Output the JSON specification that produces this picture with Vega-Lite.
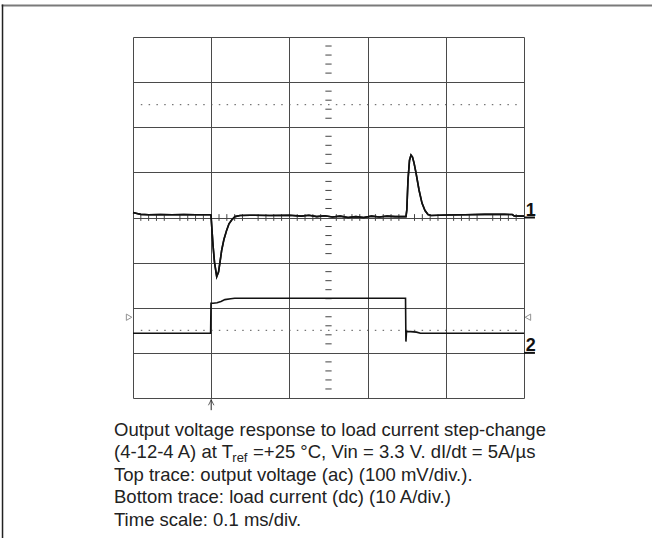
{
  "$schema": "https://vega.github.io/schema/vega-lite/v6.json",
  "width": 391,
  "height": 361,
  "autosize": {"type": "none"},
  "padding": {"left": 133, "top": 37, "right": 128, "bottom": 140},
  "background": "white",
  "config": {
    "view": {"stroke": null},
    "axis": {"domain": false, "ticks": false, "labels": false, "title": null, "grid": true, "gridColor": "#4a4a4a", "gridWidth": 1, "gridOpacity": 1}
  },
  "datasets": {
    "v": [
      {"x": 0, "y": 0.11}, {"x": 0.1, "y": 0.09}, {"x": 0.2, "y": 0.07}, {"x": 0.4, "y": 0.06}, {"x": 0.7, "y": 0.065}, {"x": 1.0, "y": 0.06}, {"x": 1.3, "y": 0.065}, {"x": 1.6, "y": 0.06}, {"x": 1.9, "y": 0.06}, {"x": 1.98, "y": 0.06},
      {"x": 1.995, "y": 0.05}, {"x": 2.02, "y": -0.28}, {"x": 2.046, "y": -0.61}, {"x": 2.084, "y": -0.99}, {"x": 2.141, "y": -1.31}, {"x": 2.187, "y": -1.21}, {"x": 2.225, "y": -0.99}, {"x": 2.269, "y": -0.72}, {"x": 2.327, "y": -0.48}, {"x": 2.396, "y": -0.28}, {"x": 2.455, "y": -0.14}, {"x": 2.524, "y": -0.055}, {"x": 2.609, "y": 0.02}, {"x": 2.737, "y": 0.044},
      {"x": 3.0, "y": 0.05}, {"x": 3.5, "y": 0.045}, {"x": 4.0, "y": 0.05}, {"x": 4.3, "y": 0.03}, {"x": 4.5, "y": 0.05}, {"x": 4.7, "y": 0.02}, {"x": 4.9, "y": 0.04}, {"x": 5.1, "y": 0.01}, {"x": 5.3, "y": 0.03}, {"x": 5.5, "y": 0.0}, {"x": 5.7, "y": 0.02}, {"x": 5.9, "y": 0.0}, {"x": 6.1, "y": 0.03}, {"x": 6.3, "y": 0.01}, {"x": 6.5, "y": 0.03}, {"x": 6.7, "y": 0.02}, {"x": 6.95, "y": 0.02},
      {"x": 6.982, "y": 0.02}, {"x": 7.003, "y": 0.17}, {"x": 7.033, "y": 0.83}, {"x": 7.072, "y": 1.27}, {"x": 7.11, "y": 1.385}, {"x": 7.148, "y": 1.34}, {"x": 7.187, "y": 1.21}, {"x": 7.238, "y": 0.99}, {"x": 7.315, "y": 0.61}, {"x": 7.391, "y": 0.32}, {"x": 7.468, "y": 0.155}, {"x": 7.545, "y": 0.066}, {"x": 7.621, "y": 0.044},
      {"x": 8.0, "y": 0.055}, {"x": 8.5, "y": 0.06}, {"x": 9.0, "y": 0.07}, {"x": 9.5, "y": 0.07}, {"x": 9.7, "y": 0.065}, {"x": 9.75, "y": 0.035}, {"x": 10, "y": 0.03}
    ],
    "i": [
      {"x": 0, "y": -2.566}, {"x": 1.985, "y": -2.566}, {"x": 1.995, "y": -1.9}, {"x": 2.05, "y": -1.9}, {"x": 2.15, "y": -1.89}, {"x": 2.25, "y": -1.86}, {"x": 2.35, "y": -1.82}, {"x": 2.5, "y": -1.8}, {"x": 2.6, "y": -1.79}, {"x": 6.97, "y": -1.79},
      {"x": 6.98, "y": -2.75}, {"x": 6.995, "y": -2.53}, {"x": 7.1, "y": -2.53}, {"x": 7.25, "y": -2.54}, {"x": 7.35, "y": -2.566}, {"x": 10, "y": -2.566}
    ],
    "xt": [
      {"x": 0.2}, {"x": 0.4}, {"x": 0.6}, {"x": 0.8}, {"x": 1.2}, {"x": 1.4}, {"x": 1.6}, {"x": 1.8}, {"x": 2.2}, {"x": 2.4}, {"x": 2.6}, {"x": 2.8}, {"x": 3.2}, {"x": 3.4}, {"x": 3.6}, {"x": 3.8}, {"x": 4.2}, {"x": 4.4}, {"x": 4.6}, {"x": 4.8},
      {"x": 5.2}, {"x": 5.4}, {"x": 5.6}, {"x": 5.8}, {"x": 6.2}, {"x": 6.4}, {"x": 6.6}, {"x": 6.8}, {"x": 7.2}, {"x": 7.4}, {"x": 7.6}, {"x": 7.8}, {"x": 8.2}, {"x": 8.4}, {"x": 8.6}, {"x": 8.8}, {"x": 9.2}, {"x": 9.4}, {"x": 9.6}, {"x": 9.8}
    ],
    "yt": [
      {"y": -3.8}, {"y": -3.6}, {"y": -3.4}, {"y": -3.2}, {"y": -2.8}, {"y": -2.6}, {"y": -2.4}, {"y": -2.2}, {"y": -1.8}, {"y": -1.6}, {"y": -1.4}, {"y": -1.2}, {"y": -0.8}, {"y": -0.6}, {"y": -0.4}, {"y": -0.2},
      {"y": 0.2}, {"y": 0.4}, {"y": 0.6}, {"y": 0.8}, {"y": 1.2}, {"y": 1.4}, {"y": 1.6}, {"y": 1.8}, {"y": 2.2}, {"y": 2.4}, {"y": 2.6}, {"y": 2.8}, {"y": 3.2}, {"y": 3.4}, {"y": 3.6}, {"y": 3.8}
    ]
  },
  "layer": [
    {
      "data": {"name": "v"},
      "mark": {"type": "line", "color": "#111", "strokeWidth": 1.6, "interpolate": "linear"},
      "encoding": {
        "x": {"field": "x", "type": "quantitative", "scale": {"domain": [0, 10], "nice": false, "zero": false}, "axis": {"values": [0, 1, 2, 3, 4, 5, 6, 7, 8, 9, 10]}},
        "y": {"field": "y", "type": "quantitative", "scale": {"domain": [-4, 4], "nice": false, "zero": false}, "axis": {"values": [-4, -3, -2, -1, 0, 1, 2, 3, 4]}}
      }
    },
    {
      "data": {"name": "xt"},
      "mark": {"type": "rule", "strokeWidth": 1, "color": "#444"},
      "encoding": {"x": {"field": "x", "type": "quantitative"}, "y": {"datum": -0.075}, "y2": {"datum": 0.075}}
    },
    {
      "data": {"name": "yt"},
      "mark": {"type": "rule", "strokeWidth": 1, "color": "#444"},
      "encoding": {"y": {"field": "y", "type": "quantitative"}, "x": {"datum": 4.92}, "x2": {"datum": 5.08}}
    },
    {
      "data": {"values": [{"y": 2.5}, {"y": -2.5}]},
      "mark": {"type": "rule", "strokeDash": [1.5, 6.3], "color": "#555", "strokeWidth": 1},
      "encoding": {"y": {"field": "y", "type": "quantitative"}, "x": {"datum": 0.2}, "x2": {"datum": 9.85}}
    },
    {
      "data": {"name": "i"},
      "mark": {"type": "line", "color": "#111", "strokeWidth": 1.6, "interpolate": "linear"},
      "encoding": {"x": {"field": "x", "type": "quantitative"}, "y": {"field": "y", "type": "quantitative"}}
    },
    {
      "data": {"name": "v"},
      "mark": {"type": "line", "color": "#111", "strokeWidth": 1.6, "interpolate": "linear"},
      "encoding": {"x": {"field": "x", "type": "quantitative"}, "y": {"field": "y", "type": "quantitative"}}
    },
    {
      "data": {"values": [{}]},
      "mark": {"type": "rule", "color": "#7a7a7a", "strokeWidth": 2},
      "encoding": {"x": {"datum": -3.36}, "x2": {"datum": 13.3}, "y": {"datum": 4.698}}
    },
    {
      "data": {"values": [{}]},
      "mark": {"type": "rule", "color": "#222", "strokeWidth": 1.5},
      "encoding": {"x": {"datum": -3.337}, "y": {"datum": 4.72}, "y2": {"datum": -7.2}}
    },
    {
      "data": {"values": [{"ch": "1", "y": 0}, {"ch": "2", "y": -3}]},
      "mark": {"type": "rule", "color": "#111", "strokeWidth": 2},
      "encoding": {"x": {"datum": 10}, "x2": {"datum": 10.28}, "y": {"field": "y", "type": "quantitative"}}
    },
    {
      "data": {"values": [{"ch": "1"}]},
      "mark": {"type": "text", "font": "Liberation Sans Narrow, Liberation Sans", "fontWeight": "bold", "fontSize": 18, "align": "center", "baseline": "alphabetic", "color": "#111"},
      "encoding": {"text": {"field": "ch"}, "x": {"datum": 10.17}, "y": {"datum": 0.04}}
    },
    {
      "data": {"values": [{"ch": "2"}]},
      "mark": {"type": "text", "font": "Liberation Sans Narrow, Liberation Sans", "fontWeight": "bold", "fontSize": 18, "align": "center", "baseline": "alphabetic", "color": "#111"},
      "encoding": {"text": {"field": "ch"}, "x": {"datum": 10.17}, "y": {"datum": -2.96}}
    },
    {
      "data": {"values": [{}]},
      "mark": {"type": "point", "shape": "triangle-right", "filled": false, "size": 40, "color": "#666", "strokeWidth": 1},
      "encoding": {"x": {"datum": -0.1}, "y": {"datum": -2.21}}
    },
    {
      "data": {"values": [{}]},
      "mark": {"type": "point", "shape": "triangle-left", "filled": false, "size": 40, "color": "#666", "strokeWidth": 1},
      "encoding": {"x": {"datum": 10.1}, "y": {"datum": -2.21}}
    },
    {
      "data": {"values": [{}]},
      "mark": {"type": "rule", "color": "#222", "strokeWidth": 1},
      "encoding": {"x": {"datum": 2.0}, "y": {"datum": -4.03}, "y2": {"datum": -4.27}}
    },
    {
      "data": {"values": [{}]},
      "mark": {"type": "point", "shape": "M-1,1L0,-1L1,1", "filled": false, "size": 30, "color": "#222", "strokeWidth": 1},
      "encoding": {"x": {"datum": 2.0}, "y": {"datum": -4.1}}
    },
    {
      "data": {"values": [{"t": "Output voltage response to load current step-change"}]},
      "mark": {"type": "text", "font": "Liberation Sans", "fontSize": 18.5, "align": "left", "baseline": "alphabetic", "color": "#222"},
      "encoding": {"text": {"field": "t"}, "x": {"datum": -0.486}, "y": {"datum": -4.835}}
    },
    {
      "data": {"values": [{"t": "(4-12-4 A) at T"}]},
      "mark": {"type": "text", "font": "Liberation Sans", "fontSize": 18.5, "align": "left", "baseline": "alphabetic", "color": "#222"},
      "encoding": {"text": {"field": "t"}, "x": {"datum": -0.486}, "y": {"datum": -5.334}}
    },
    {
      "data": {"values": [{"t": "ref"}]},
      "mark": {"type": "text", "font": "Liberation Sans", "fontSize": 13, "align": "left", "baseline": "alphabetic", "color": "#222"},
      "encoding": {"text": {"field": "t"}, "x": {"datum": 2.54}, "y": {"datum": -5.423}}
    },
    {
      "data": {"values": [{"t": "=+25 °C, Vin = 3.3 V. dI/dt = 5A/µs"}]},
      "mark": {"type": "text", "font": "Liberation Sans", "fontSize": 18.5, "align": "left", "baseline": "alphabetic", "color": "#222"},
      "encoding": {"text": {"field": "t"}, "x": {"datum": 3.07}, "y": {"datum": -5.334}}
    },
    {
      "data": {"values": [{"t": "Top trace: output voltage (ac) (100 mV/div.)."}]},
      "mark": {"type": "text", "font": "Liberation Sans", "fontSize": 18.5, "align": "left", "baseline": "alphabetic", "color": "#222"},
      "encoding": {"text": {"field": "t"}, "x": {"datum": -0.486}, "y": {"datum": -5.833}}
    },
    {
      "data": {"values": [{"t": "Bottom trace: load current (dc) (10 A/div.)"}]},
      "mark": {"type": "text", "font": "Liberation Sans", "fontSize": 18.5, "align": "left", "baseline": "alphabetic", "color": "#222"},
      "encoding": {"text": {"field": "t"}, "x": {"datum": -0.486}, "y": {"datum": -6.331}}
    },
    {
      "data": {"values": [{"t": "Time scale: 0.1 ms/div."}]},
      "mark": {"type": "text", "font": "Liberation Sans", "fontSize": 18.5, "align": "left", "baseline": "alphabetic", "color": "#222"},
      "encoding": {"text": {"field": "t"}, "x": {"datum": -0.486}, "y": {"datum": -6.83}}
    }
  ]
}
